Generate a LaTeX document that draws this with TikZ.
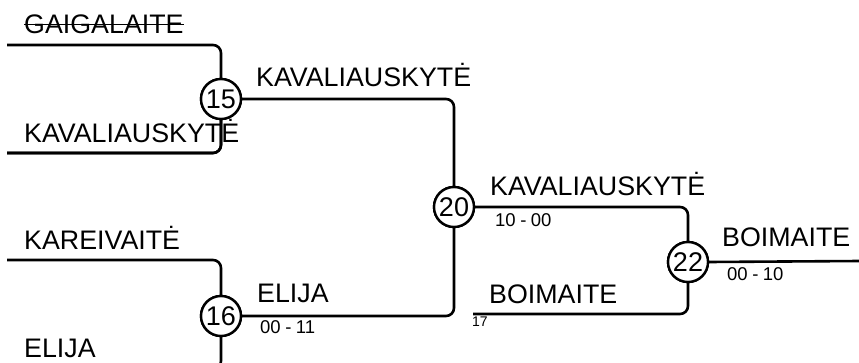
\documentclass[tikz,border=0pt]{standalone}
\usepackage{fontspec}
\setmainfont{Liberation Sans}
\begin{document}
\begin{tikzpicture}[x=1pt,y=-1pt,
  wire/.style={line width=2.6pt, rounded corners=8pt},
  seed/.style={circle, draw, line width=2.4pt, minimum size=40pt, inner sep=0pt, fill=white, font=\fontsize{27}{27}\selectfont},
  pname/.style={anchor=base west, inner sep=0pt, font=\fontsize{26.8}{27}\selectfont},
  score/.style={anchor=base west, inner sep=0pt, font=\fontsize{18.5}{19}\selectfont},
  tiny/.style={anchor=base west, inner sep=0pt, font=\fontsize{14}{14}\selectfont}]
\useasboundingbox (0,0) rectangle (859,363);
\clip (0,0) rectangle (859,363);
% match circles
\node[seed] (m15) at (221,99) {15};
\node[seed] (m16) at (221,316) {16};
\node[seed] (m20) at (454,207) {20};
\node[seed] (m22) at (688,262) {22};
% free ends
\coordinate (a1) at (7,45);
\coordinate (a2) at (7,153);
\coordinate (a3) at (7,260);
\coordinate (a4) at (7,369);
\coordinate (b17) at (473,314);
\coordinate (fin) at (860,261);
% connectors
\draw[wire] (a1) -| (m15.north);
\draw[wire] (a2) -| (m15.south);
\draw[wire] (a3) -| (m16.north);
\draw[wire] (a4) -| (m16.south);
\draw[wire] (m15.east) -| (m20.north);
\draw[wire] (m16.east) -| (m20.south);
\draw[wire] (m20.east) -| (m22.north);
\draw[wire] (b17) -| (m22.south);
\draw[wire] (m22.east) -- (fin);
% redraw circles on top
\node[seed] at (m15) {15};
\node[seed] at (m16) {16};
\node[seed] at (m20) {20};
\node[seed] at (m22) {22};
% names
\node[pname] (gaig) at (24,34) {GAIGALAITE};
\draw[line width=1.8pt] ([yshift=9.5pt]gaig.base west) -- ([yshift=9.5pt]gaig.base east);
\node[pname] (kav1) at (24,143) {KAVALIAUSKYTĖ};
\node[pname] (kar) at (24,250) {KAREIVAITĖ};
\node[pname] (eli1) at (24,357) {ELIJA};
\node[pname] (kav2) at (256,87) {KAVALIAUSKYTĖ};
\node[pname] (eli2) at (257,302) {ELIJA};
\node[pname] (kav3) at (490,196) {KAVALIAUSKYTĖ};
\node[pname] (boi1) at (489,303) {BOIMAITE};
\node[pname] (boi2) at (722,247) {BOIMAITE};
% redraw vertical over the name crossing it
\draw[wire] (a2) -| (m15.south);
% scores
\node[score] (s16) at (260,333) {00\hspace{4.5pt}-\hspace{4.5pt}11};
\node[score] (s20) at (495,226.5) {10\hspace{4.5pt}-\hspace{4.5pt}00};
\node[score] (s22) at (727,280.5) {00\hspace{4.5pt}-\hspace{4.5pt}10};
\node[tiny] (n17) at (472,326.5) {17};
\end{tikzpicture}
\end{document}
